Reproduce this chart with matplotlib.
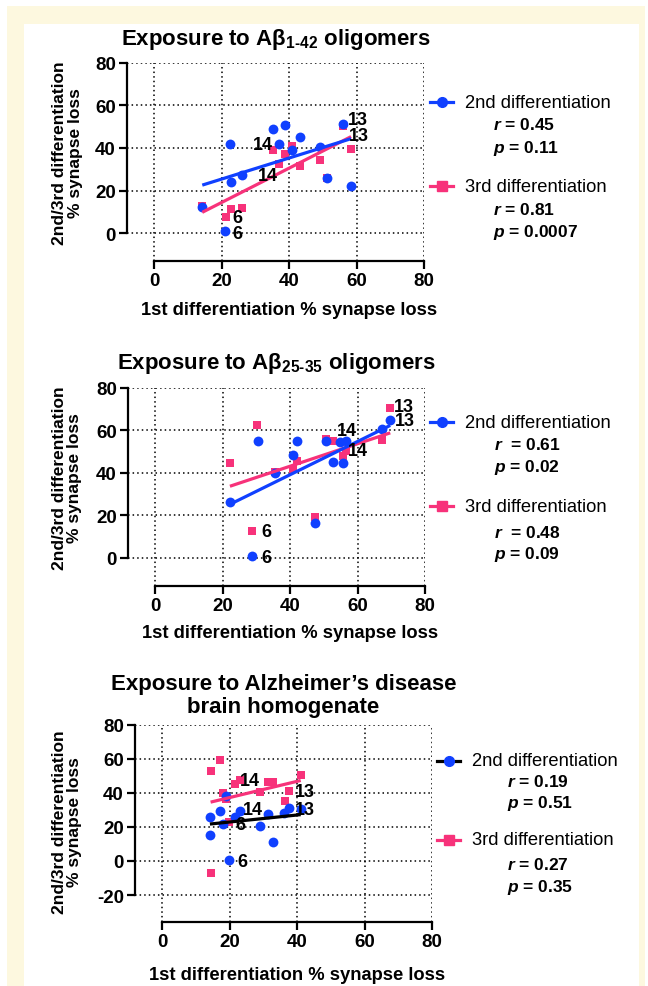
import numpy as np
import matplotlib
matplotlib.use('Agg')
import matplotlib.pyplot as plt
from matplotlib.lines import Line2D
from matplotlib.patches import Rectangle

plt.rcParams['font.family'] = ['Liberation Sans', 'DejaVu Sans']
plt.rcParams['font.weight'] = 'bold'
plt.rcParams['axes.unicode_minus'] = False
plt.rcParams['mathtext.fontset'] = 'custom'
plt.rcParams['mathtext.rm'] = 'Liberation Sans:bold'
plt.rcParams['mathtext.bf'] = 'Liberation Sans:bold'
plt.rcParams['mathtext.it'] = 'Liberation Sans:italic:bold'

BLUE = '#1040ff'
PINK = '#f7327a'
CREAM = '#fdf8df'

# Abeta 1-42 oligomers
a42_x2 = [14.3, 21.0, 22.6, 22.7, 26.2, 35.3, 37.1, 38.8, 40.8, 43.2, 49.2, 51.2, 56.0, 58.4]
a42_y2 = [12.5, 0.9, 41.9, 23.9, 27.5, 48.8, 42.0, 50.8, 39.1, 45.3, 40.5, 25.8, 51.3, 22.0]
a42_x3 = [14.3, 21.2, 22.7, 26.2, 35.3, 37.0, 38.8, 40.8, 43.2, 49.2, 51.2, 56.0, 58.4]
a42_y3 = [12.8, 7.7, 11.6, 11.9, 39.1, 32.7, 37.3, 41.1, 31.3, 34.4, 26.1, 50.3, 39.5]
a42_labels = [('13', 60.4, 53.2), ('13', 60.7, 46.0), ('14', 32.3, 41.5),
              ('14', 33.7, 27.2), ('6', 24.8, 7.5), ('6', 24.7, -0.3)]
a42_stats = ['$r$ = 0.45', '$p$ = 0.11', '$r$ = 0.81', '$p$ = 0.0007']

# Abeta 25-35 oligomers
a25_x2 = [22.2, 28.8, 30.5, 35.7, 40.8, 42.0, 47.4, 50.8, 52.8, 54.9, 55.6, 56.7, 67.3, 69.7]
a25_y2 = [26.5, 1.1, 55.2, 39.8, 48.3, 55.2, 16.3, 55.2, 45.3, 54.7, 44.5, 55.1, 60.5, 65.1]
a25_x3 = [22.2, 30.3, 28.7, 35.7, 40.8, 42.0, 47.4, 50.8, 52.8, 55.6, 56.7, 67.3, 69.7]
a25_y3 = [44.7, 62.6, 12.7, 40.6, 41.9, 45.8, 19.3, 56.0, 55.2, 48.2, 50.5, 55.5, 70.6]
a25_labels = [('13', 73.8, 71.5), ('13', 74.1, 64.8), ('14', 56.8, 59.9),
              ('14', 60.2, 50.8), ('6', 33.1, 12.6), ('6', 32.9, 0.3)]
a25_stats = ['$r$  = 0.61', '$p$ = 0.02', '$r$  = 0.48', '$p$ = 0.09']

# Alzheimer's disease brain homogenate
ad_x2 = [14.2, 14.2, 17.2, 18.2, 19.1, 19.9, 21.6, 23.2, 29.0, 31.4, 33.0, 36.1, 37.7, 41.1]
ad_y2 = [25.6, 15.3, 29.4, 21.5, 38.4, 0.6, 26.0, 29.6, 20.4, 27.6, 11.2, 28.4, 31.3, 30.5]
ad_x3 = [14.4, 14.4, 17.2, 18.2, 19.1, 19.9, 21.6, 23.0, 29.0, 31.4, 33.0, 36.3, 37.7, 41.1]
ad_y3 = [53.0, -6.8, 59.1, 39.9, 36.4, 22.7, 45.2, 47.7, 40.3, 46.6, 46.2, 35.4, 41.1, 50.5]
ad_labels = [('14', 26.0, 47.1), ('14', 27.0, 30.5), ('13', 42.3, 40.6),
             ('13', 42.3, 30.5), ('6', 23.1, 21.7), ('6', 23.9, -0.5)]
ad_stats = ['$r$ = 0.19', '$p$ = 0.51', '$r$ = 0.27', '$p$ = 0.35']

W, H = 648, 987
fig = plt.figure(figsize=(W / 100, H / 100), dpi=100)

# cream frame behind a white page
fig.patches.append(Rectangle((7 / W, 0), 638 / W, 1 - 7 / H, transform=fig.transFigure,
                             facecolor=CREAM, edgecolor='none', zorder=-10))
fig.patches.append(Rectangle((24 / W, 0), 615 / W, 1 - 25 / H, transform=fig.transFigure,
                             facecolor='white', edgecolor='none', zorder=-9))


def px(x, y):
    return x / W, 1 - y / H


def draw_panel(rect, x2, y2, x3, y3, line2_color, ylo, yticks, labels,
               title, title_y, ylab_xy, xlab_y):
    ax = fig.add_axes(rect)
    ax.patch.set_alpha(0)
    ax.set_xlim(-8, 80)
    ax.set_ylim(ylo, 80)
    ax.set_xticks([0, 20, 40, 60, 80])
    ax.set_yticks(yticks)
    for s in ['top', 'right']:
        ax.spines[s].set_visible(False)
    ax.spines['left'].set_bounds(yticks[0], 80)
    ax.spines['bottom'].set_bounds(0, 80)
    for s in ['left', 'bottom']:
        ax.spines[s].set_linewidth(1.6)
    ax.grid(True, linestyle=(0, (1, 2)), color='black', linewidth=1.1)
    ax.tick_params(direction='out', length=6, width=1.6, labelsize=13.5, pad=2)

    ax.scatter(x3, y3, marker='s', s=40, color=PINK, zorder=3, linewidths=0)
    ax.scatter(x2, y2, marker='o', s=50, color=BLUE, zorder=4, linewidths=0)

    # linear regression lines
    for xs, ys, c in [(x3, y3, PINK), (x2, y2, line2_color)]:
        k, b = np.polyfit(xs, ys, 1)
        xx = np.array([min(xs), max(xs)])
        ax.plot(xx, k * xx + b, color=c, linewidth=2.3, zorder=5,
                solid_capstyle='butt')

    for t, lx, ly in labels:
        ax.text(lx, ly, t, ha='center', va='center', fontsize=13, zorder=6)

    ax.text(0.5, title_y, title, transform=ax.transAxes, ha='center',
            va='center', fontsize=16, linespacing=1.12)
    ax.text(ylab_xy[0], ylab_xy[1], '2nd/3rd differentiation\n% synapse loss',
            transform=ax.transAxes, rotation=90, ha='center', va='center',
            fontsize=12.5, linespacing=1.05)
    ax.text(0.545, xlab_y, '1st differentiation % synapse loss',
            transform=ax.transAxes, ha='center', va='center', fontsize=13.2)
    return ax


def draw_legend(x_line, x_text, x_stat, ys, line2_color, stats):
    entries = [(BLUE, 'o', line2_color, '2nd differentiation', ys[0]),
               (PINK, 's', PINK, '3rd differentiation', ys[3])]
    for mc, mk, lc, name, y in entries:
        x0, fy = px(x_line[0], y)
        x1, _ = px(x_line[1], y)
        fig.add_artist(Line2D([x0, x1], [fy, fy], color=lc, linewidth=2.3,
                              transform=fig.transFigure))
        fig.add_artist(Line2D([(x0 + x1) / 2], [fy], marker=mk, color=mc,
                              markersize=7 if mk == 'o' else 6.5, linestyle='none',
                              transform=fig.transFigure))
        fig.text(*px(x_text, y), name, ha='left', va='center', fontsize=13.2,
                 fontweight='normal')
    for s, y in zip(stats, [ys[1], ys[2], ys[4], ys[5]]):
        fig.text(*px(x_stat, y), s, ha='left', va='center', fontsize=12.5)


draw_panel([127 / W, 1 - 262 / H, 297 / W, 198.4 / H],
           a42_x2, a42_y2, a42_x3, a42_y3, BLUE, -13, [0, 20, 40, 60, 80],
           a42_labels, 'Exposure to Aβ$_{1‐42}$ oligomers', 1.119,
           (-0.2, 0.55), -0.245)
draw_legend((430, 453), 465, 493, [103, 125, 149, 187, 210, 233], BLUE, a42_stats)

draw_panel([128 / W, 1 - 586.6 / H, 297 / W, 197.6 / H],
           a25_x2, a25_y2, a25_x3, a25_y3, BLUE, -13, [0, 20, 40, 60, 80],
           a25_labels, 'Exposure to Aβ$_{25‐35}$ oligomers', 1.127,
           (-0.205, 0.55), -0.235)
draw_legend((430, 453), 465, 494, [423, 445, 468, 507, 533, 554], BLUE, a25_stats)

draw_panel([135 / W, 1 - 923.3 / H, 297 / W, 197.6 / H],
           ad_x2, ad_y2, ad_x3, ad_y3, 'black', -36, [-20, 0, 20, 40, 60, 80],
           ad_labels, 'Exposure to Alzheimer’s disease\nbrain homogenate', 1.15,
           (-0.229, 0.51), -0.262)
draw_legend((437, 460), 472, 507, [762, 782, 804, 841, 865, 888], 'black', ad_stats)

fig.savefig('out.png', dpi=100)
